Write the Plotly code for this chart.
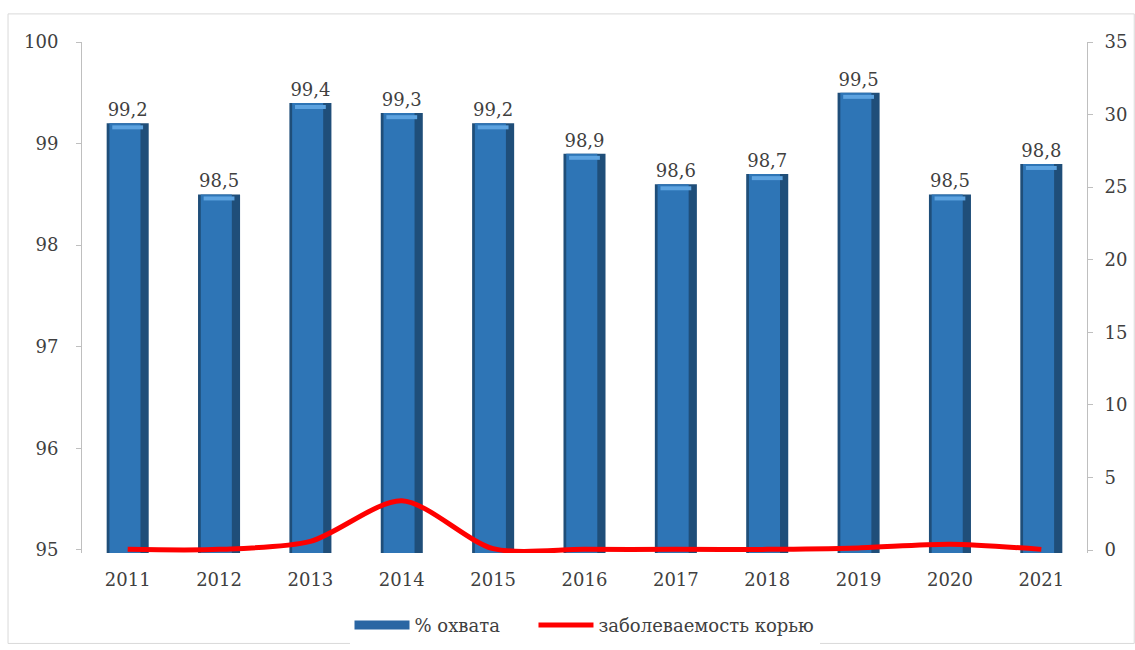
import plotly.graph_objects as go

years = ["2011", "2012", "2013", "2014", "2015", "2016", "2017", "2018", "2019", "2020", "2021"]
coverage = [99.2, 98.5, 99.4, 99.3, 99.2, 98.9, 98.6, 98.7, 99.5, 98.5, 98.8]
measles = [0.05, 0.05, 0.6, 3.4, 0.1, 0.05, 0.05, 0.05, 0.15, 0.4, 0.05]
left_ticks = [95, 96, 97, 98, 99, 100]
right_ticks = [0, 5, 10, 15, 20, 25, 30, 35]

FONT = "DejaVu Serif, serif"
TXT = "#404040"
NB = "\u00a0"

fig = go.Figure()

# main (dark edge) bar
fig.add_trace(go.Bar(
    x=years, y=coverage, name="% охвата", width=0.46,
    marker=dict(color="#1F4E79", line=dict(width=0)),
    text=[f"{v:.1f}".replace(".", ",") for v in coverage],
    textposition="outside", cliponaxis=False,
    textfont=dict(family=FONT, size=18, color=TXT),
    yaxis="y", showlegend=False,
))
# lighter body for cylinder look
fig.add_trace(go.Bar(
    x=years, y=coverage, width=0.34, offset=-0.2,
    marker=dict(color="#2E75B6", line=dict(width=0)),
    showlegend=False, hoverinfo="skip", yaxis="y",
))
# top highlight
fig.add_trace(go.Scatter(
    x=years, y=[v - 0.04 for v in coverage], mode="markers",
    marker=dict(symbol="line-ew", size=22, line=dict(color="#5DA3E0", width=4)),
    showlegend=False, hoverinfo="skip", yaxis="y",
))
# legend entry for bars (wide swatch)
fig.add_trace(go.Scatter(
    x=[None], y=[None], mode="lines", name="% охвата" + NB * 5,
    line=dict(color="#2A66A3", width=9), yaxis="y", legendrank=1,
))

fig.add_trace(go.Scatter(
    x=years, y=measles, name="заболеваемость корью", mode="lines",
    line=dict(color="#FF0000", width=5, shape="spline", smoothing=0.8),
    yaxis="y2", legendrank=2,
))

fig.update_layout(
    width=1135, height=650,
    margin=dict(l=82, r=48, t=42, b=97, autoexpand=False),
    paper_bgcolor="white", plot_bgcolor="white",
    barmode="overlay",
    font=dict(family=FONT, size=16, color=TXT),
    showlegend=True,
    legend=dict(orientation="h", x=0.5, xanchor="center", yref="container", y=0.038, yanchor="middle",
                font=dict(family=FONT, size=18, color=TXT), itemwidth=55,
                traceorder="normal"),
    xaxis=dict(range=[-0.5, 10.5], showgrid=False, showline=False, ticks="",
               tickfont=dict(family=FONT, size=18, color=TXT),
               ticklabelstandoff=14, automargin=False),
    yaxis=dict(range=[94.97, 100], tickvals=left_ticks, showgrid=False, showline=True,
               linecolor="#BFBFBF", linewidth=1, ticks="outside", ticklen=5, tickcolor="#BFBFBF",
               tickfont=dict(family=FONT, size=18, color=TXT), ticklabelstandoff=14, zeroline=False,
               automargin=False),
    yaxis2=dict(range=[-0.2, 35], tickvals=right_ticks, overlaying="y", side="right", showgrid=False,
                showline=True, linecolor="#BFBFBF", linewidth=1, ticks="outside", ticklen=5,
                tickcolor="#BFBFBF", tickfont=dict(family=FONT, size=18, color=TXT),
                ticklabelstandoff=8, zeroline=False, automargin=False),
    shapes=[dict(type="rect", xref="paper", yref="paper", x0=-0.0736, x1=1.047, y0=-0.177, y1=1.055,
                 line=dict(color="#D9D9D9", width=1), fillcolor="rgba(0,0,0,0)", layer="below")],
)

fig.write_html("out.html", post_script="document.body.style.margin='0';",
               config={"displayModeBar": False})
